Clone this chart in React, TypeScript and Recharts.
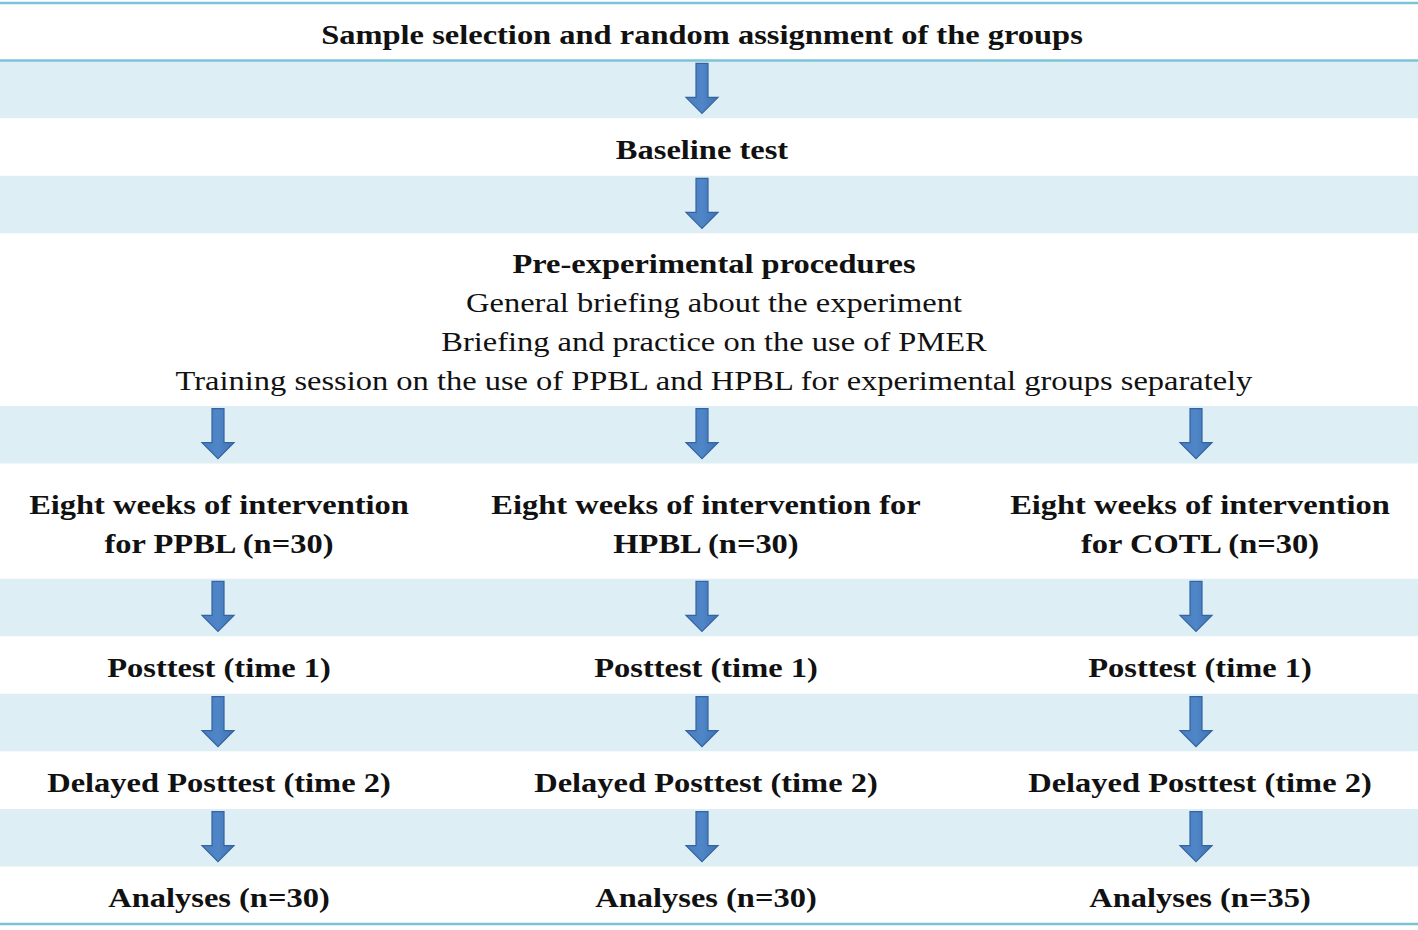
import {
  ComposedChart,
  XAxis,
  YAxis,
  Scatter,
  ReferenceArea,
  ReferenceLine,
} from "recharts";

// Flow of the study, top to bottom
const sharedSteps = [
  "Sample selection and random assignment of the groups",
  "Baseline test",
  "Pre-experimental procedures",
];
const preExperimentalItems = [
  "General briefing about the experiment",
  "Briefing and practice on the use of PMER",
  "Training session on the use of PPBL and HPBL for experimental groups separately",
];
const groups = ["PPBL", "HPBL", "COTL"];
const interventionN = [30, 30, 30];
const analysesN = [30, 30, 35];
const groupSteps = ["Posttest (time 1)", "Delayed Posttest (time 2)"];

// layout: height of each row in "row units" (text rows and arrow bands alternate)
const ROW_SPANS = [1, 1, 1, 1, 3, 1, 2, 1, 1, 1, 1, 1, 1];
const TOTAL_UNITS = ROW_SPANS.reduce((a, b) => a + b, 0);
const ROW_START = ROW_SPANS.map((_, i) =>
  ROW_SPANS.slice(0, i).reduce((a, b) => a + b, 0)
);
const rowCenter = (i: number) => ROW_START[i] + ROW_SPANS[i] / 2;

const WIDTH = 1418;
const CENTER_X = 702;
const COLUMN_X = [219, 706, 1200];
const ARROW_X = [218, 702, 1196];

const FONT = "'Liberation Serif', 'Times New Roman', serif";
const LINE_GAP = 39;
const STRETCH = 1.16; // the original type is set a bit wide

type TextLine = { text: string; bold: boolean };
type TextPoint = { x: number; y: number; lines: TextLine[] };
type ArrowPoint = { x: number; y: number };

const bold = (text: string): TextLine => ({ text, bold: true });
const plain = (text: string): TextLine => ({ text, bold: false });

const wrapIntervention = (group: string, n: number, i: number): TextLine[] =>
  i === 1
    ? [bold("Eight weeks of intervention for"), bold(`${group} (n=${n})`)]
    : [bold("Eight weeks of intervention"), bold(`for ${group} (n=${n})`)];

const textPoints: TextPoint[] = [
  { x: CENTER_X, y: rowCenter(0), lines: [bold(sharedSteps[0])] },
  { x: CENTER_X, y: rowCenter(2), lines: [bold(sharedSteps[1])] },
  {
    x: CENTER_X + 12,
    y: rowCenter(4),
    lines: [bold(sharedSteps[2]), ...preExperimentalItems.map(plain)],
  },
  ...groups.map((g, i) => ({
    x: COLUMN_X[i],
    y: rowCenter(6),
    lines: wrapIntervention(g, interventionN[i], i),
  })),
  ...groups.flatMap((_, i) =>
    groupSteps.map((s, k) => ({
      x: COLUMN_X[i],
      y: rowCenter(8 + k * 2),
      lines: [bold(s)],
    }))
  ),
  ...groups.map((_, i) => ({
    x: COLUMN_X[i],
    y: rowCenter(12),
    lines: [bold(`Analyses (n=${analysesN[i]})`)],
  })),
];

const bandRows = ROW_SPANS.map((_, i) => i).filter((i) => i % 2 === 1);

const arrowPoints: ArrowPoint[] = bandRows.flatMap((r) =>
  r < 5
    ? [{ x: CENTER_X, y: rowCenter(r) }]
    : ARROW_X.map((x) => ({ x, y: rowCenter(r) }))
);

function DownArrow(props: any) {
  const { cx, cy } = props;
  const top = cy - 26;
  const neck = cy + 8;
  const tip = cy + 24;
  const shaft = 6;
  const head = 16;
  const d = `M${cx - shaft},${top} L${cx + shaft},${top} L${cx + shaft},${neck} L${cx + head},${neck} L${cx},${tip} L${cx - head},${neck} L${cx - shaft},${neck} Z`;
  return (
    <path
      d={d}
      fill="url(#arrow-fill)"
      stroke="#3563a0"
      strokeWidth={1.2}
      strokeLinejoin="miter"
    />
  );
}

function StepText(props: any) {
  const { cx, cy, payload } = props;
  const lines: TextLine[] = payload.lines;
  const n = lines.length;
  return (
    <g transform={`translate(${cx},0) scale(${STRETCH},1) translate(${-cx},0)`}>
      {lines.map((line, i) => (
        <text
          key={i}
          x={cx}
          y={cy + 12 + (i - (n - 1) / 2) * LINE_GAP}
          textAnchor="middle"
          fontFamily={FONT}
          fontSize={28}
          fontWeight={line.bold ? 700 : 400}
          fill="#111"
        >
          {line.text}
        </text>
      ))}
    </g>
  );
}

export default function App() {
  return (
    <div style={{ width: WIDTH, height: 930, background: "#fff" }}>
      <style>{"body{margin:0}"}</style>
      <ComposedChart
        width={WIDTH}
        height={930}
        margin={{ top: 3, right: 0, bottom: 6, left: 0 }}
      >
        <defs>
          <linearGradient id="arrow-fill" x1="0" y1="0" x2="1" y2="0">
            <stop offset="0%" stopColor="#4a7fc0" />
            <stop offset="50%" stopColor="#4f86c8" />
            <stop offset="100%" stopColor="#3f72b2" />
          </linearGradient>
        </defs>
        <XAxis type="number" dataKey="x" domain={[0, WIDTH]} hide />
        <YAxis type="number" dataKey="y" domain={[0, TOTAL_UNITS]} reversed hide />
        {bandRows.map((r) => (
          <ReferenceArea
            key={r}
            x1={0}
            x2={WIDTH}
            y1={ROW_START[r]}
            y2={ROW_START[r] + ROW_SPANS[r]}
            fill="#ddeef5"
            fillOpacity={1}
            stroke="none"
          />
        ))}
        <ReferenceLine y={0} stroke="#7cc3d8" strokeWidth={2.5} />
        <ReferenceLine y={1} stroke="#7cc3d8" strokeWidth={2.5} />
        <ReferenceLine y={TOTAL_UNITS} stroke="#7cc3d8" strokeWidth={2.5} />
        <Scatter
          data={arrowPoints}
          shape={DownArrow}
          isAnimationActive={false}
        />
        <Scatter
          data={textPoints}
          shape={StepText}
          isAnimationActive={false}
        />
      </ComposedChart>
    </div>
  );
}
